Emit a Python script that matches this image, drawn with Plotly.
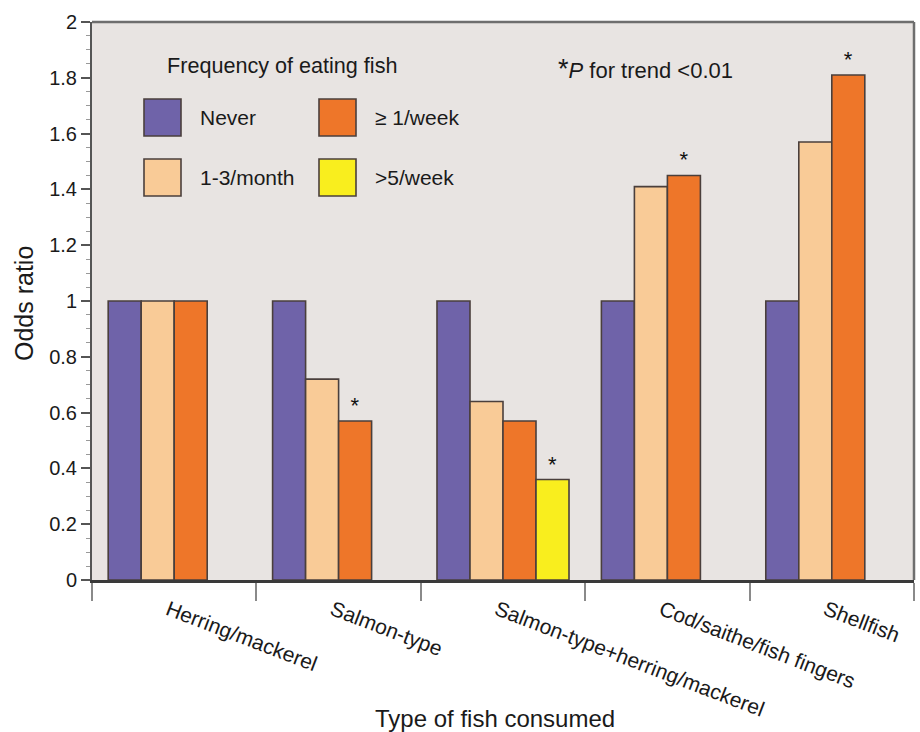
import plotly.graph_objects as go

# Odds ratios by type of fish and frequency of eating fish
categories = [
    "Herring/mackerel",
    "Salmon-type",
    "Salmon-type+herring/mackerel",
    "Cod/saithe/fish fingers",
    "Shellfish",
]
never = [1.0, 1.0, 1.0, 1.0, 1.0]
per_month_1_3 = [1.0, 0.72, 0.64, 1.41, 1.57]
per_week_ge1 = [1.0, 0.57, 0.57, 1.45, 1.81]
per_week_gt5 = [None, None, 0.36, None, None]

# significance markers (P for trend < 0.01)
sig_never = ["", "", "", "", ""]
sig_month = ["", "", "", "", ""]
sig_week_ge1 = ["", "*", "", "*", "*"]
sig_week_gt5 = ["", "", "*", "", ""]

series_names = ["Never", "1-3/month", "\u2265 1/week", ">5/week"]
colors = ["#6F63A9", "#F9CB97", "#EE7629", "#F9EE1E"]
edge = "#4A3F3C"
font_family = "Arial, Liberation Sans, Helvetica, sans-serif"

W, H = 920, 732
M_L, M_R, M_T, M_B = 92, 6, 22, 152
PW, PH = W - M_L - M_R, H - M_T - M_B


def px_x(x):
    return (x - M_L) / PW


def px_y(y):
    return (H - M_B - y) / PH


fig = go.Figure()
series = [
    (never, sig_never),
    (per_month_1_3, sig_month),
    (per_week_ge1, sig_week_ge1),
    (per_week_gt5, sig_week_gt5),
]
for (vals, sig), name, col in zip(series, series_names, colors):
    fig.add_trace(go.Bar(
        x=categories,
        y=vals,
        name=name,
        marker=dict(color=col, line=dict(color=edge, width=1.6)),
        text=sig,
        textposition=["outside" if s else "none" for s in sig],
        textfont=dict(size=22, color="#111", family=font_family),
        cliponaxis=False,
        showlegend=False,
        hoverinfo="x+y+name",
    ))

annotations = []
shapes = []

# legend block inside the plot area
annotations.append(dict(
    x=px_x(165), y=px_y(65), xref="paper", yref="paper",
    text="Frequency of eating fish", showarrow=False,
    xanchor="left", yanchor="middle",
    font=dict(size=21.6, color="#1a1a1a", family=font_family),
))
legend_slots = [
    ("Never", colors[0], 144, 99),
    ("\u2265 1/week", colors[2], 319, 99),
    ("1-3/month", colors[1], 144, 159),
    (">5/week", colors[3], 319, 159),
]
for label, col, sx, sy in legend_slots:
    shapes.append(dict(
        type="rect", xref="paper", yref="paper",
        x0=px_x(sx), x1=px_x(sx + 37), y0=px_y(sy + 37), y1=px_y(sy),
        fillcolor=col, line=dict(color=edge, width=1.6), layer="above",
    ))
    annotations.append(dict(
        x=px_x(sx + 54), y=px_y(sy + 18), xref="paper", yref="paper",
        text=label, showarrow=False, xanchor="left", yanchor="middle",
        font=dict(size=21, color="#1a1a1a", family=font_family),
    ))

annotations.append(dict(
    x=px_x(556), y=px_y(69), xref="paper", yref="paper",
    text="<span style='font-size:27px'>*</span><i>P</i> for trend &lt;0.01",
    showarrow=False, xanchor="left", yanchor="middle",
    font=dict(size=22, color="#1a1a1a", family=font_family),
))

# axis titles
annotations.append(dict(
    x=px_x(495), y=px_y(718), xref="paper", yref="paper",
    text="Type of fish consumed", showarrow=False,
    xanchor="center", yanchor="middle",
    font=dict(size=24, color="#1a1a1a", family=font_family),
))
annotations.append(dict(
    x=px_x(24), y=px_y(304), xref="paper", yref="paper",
    text="Odds ratio", showarrow=False, textangle=-90,
    xanchor="center", yanchor="middle",
    font=dict(size=25, color="#1a1a1a", family=font_family),
))

# top and right frame edges
shapes.append(dict(type="line", xref="paper", yref="paper", x0=0, x1=1, y0=1, y1=1,
                   line=dict(color="#6E6E6E", width=2.5), layer="above"))
shapes.append(dict(type="line", xref="paper", yref="paper", x0=1, x1=1, y0=0, y1=1,
                   line=dict(color="#6E6E6E", width=2.5), layer="above"))

fig.update_layout(
    width=W, height=H,
    margin=dict(l=M_L, r=M_R, t=M_T, b=M_B, pad=0),
    barmode="group",
    bargap=0.197,
    bargroupgap=0,
    plot_bgcolor="#E8E4E2",
    paper_bgcolor="white",
    font=dict(family=font_family, size=20, color="#1a1a1a"),
    annotations=annotations,
    shapes=shapes,
)
fig.update_xaxes(
    type="category",
    tickson="boundaries",
    ticks="outside",
    ticklen=18,
    tickwidth=1.5,
    tickcolor="#8A8A8A",
    tickangle=21,
    tickfont=dict(size=21, color="#1a1a1a"),
    ticklabelstandoff=7,
    ticklabelshift=-6,
    showline=True,
    linecolor="#3A3A3A",
    linewidth=2.5,
    showgrid=False,
    zeroline=False,
)
fig.update_yaxes(
    range=[0, 2],
    dtick=0.2,
    tick0=0,
    ticks="outside",
    ticklen=9,
    tickwidth=1.5,
    tickcolor="#555",
    tickfont=dict(size=20, color="#1a1a1a"),
    minor=dict(dtick=0.05, ticks="outside", ticklen=4, tickcolor="#999", tickwidth=1),
    showline=True,
    linecolor="#555",
    linewidth=2,
    showgrid=False,
    zeroline=False,
)

fig.write_html("out.html")
